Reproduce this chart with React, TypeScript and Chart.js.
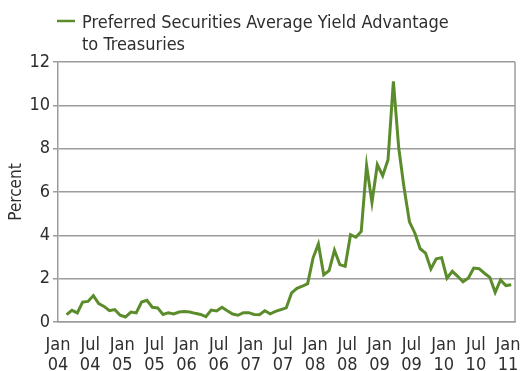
import React, { useEffect, useRef } from "react";
import { Chart, registerables } from "chart.js";

Chart.register(...registerables);

// Monthly yield advantage (percent), Feb 2004 – Jan 2011
const yieldAdvantage = [
  0.34, 0.54, 0.42, 0.92, 0.95, 1.22, 0.85, 0.72, 0.52, 0.57, 0.31,
  0.23, 0.46, 0.42, 0.92, 1.0, 0.68, 0.65, 0.35, 0.43, 0.37, 0.46,
  0.48, 0.46, 0.4, 0.35, 0.25, 0.55, 0.51, 0.68, 0.52, 0.37, 0.31,
  0.43, 0.43, 0.35, 0.34, 0.52, 0.38, 0.49, 0.57, 0.65, 1.34, 1.55,
  1.65, 1.77, 2.95, 3.6, 2.18, 2.37, 3.31, 2.65, 2.57, 4.03, 3.91,
  4.18, 7.22, 5.52, 7.26, 6.75, 7.49, 11.11, 8.03, 6.18, 4.62, 4.11,
  3.38, 3.18, 2.45, 2.92, 2.97, 2.02, 2.34, 2.11, 1.86, 2.03, 2.49,
  2.46, 2.25, 2.06, 1.37, 1.94, 1.68, 1.72,
];

const seriesLabel = ["Preferred Securities Average Yield Advantage", "to Treasuries"];

// x tick labels every six months (month index from Jan 2004)
const xTickMonths = [0, 6, 12, 18, 24, 30, 36, 42, 48, 54, 60, 66, 72, 78, 84];
const xTickLabels = [
  ["Jan", "04"], ["Jul", "04"], ["Jan", "05"], ["Jul", "05"], ["Jan", "06"],
  ["Jul", "06"], ["Jan", "07"], ["Jul", "07"], ["Jan", "08"], ["Jul", "08"],
  ["Jan", "09"], ["Jul", "09"], ["Jan", "10"], ["Jul", "10"], ["Jan", "11"],
];
const yTicks = [0, 2, 4, 6, 8, 10, 12];

const FONT = "'Liberation Sans Narrow', 'DejaVu Sans Condensed', 'Liberation Sans', sans-serif";
const TEXT = "#2e2e2e";
const GRID = "#9c9c9c";
const GREEN = "#5b8c2b";
const POINT_OFFSET = 1.6;

const framePlugin = {
  id: "frameAndLegend",
  afterDraw(chart: any) {
    const { ctx, chartArea } = chart;
    ctx.save();
    ctx.strokeStyle = GRID;
    ctx.lineWidth = 1.5;
    ctx.beginPath();
    ctx.moveTo(chartArea.right, chartArea.top);
    ctx.lineTo(chartArea.right, chartArea.bottom);
    ctx.stroke();
    // legend
    ctx.strokeStyle = GREEN;
    ctx.lineWidth = 2.5;
    ctx.beginPath();
    ctx.moveTo(57, 21);
    ctx.lineTo(75, 21);
    ctx.stroke();
    ctx.fillStyle = TEXT;
    ctx.font = `18px ${FONT}`;
    ctx.textBaseline = "alphabetic";
    ctx.textAlign = "left";
    const lines = chart.data.datasets[0].label.split("\n");
    lines.forEach((l: string, i: number) => ctx.fillText(l, 82, 28 + i * 21.5));
    ctx.restore();
  },
};

export default function App() {
  const ref = useRef<HTMLCanvasElement | null>(null);
  useEffect(() => {
    document.body.style.margin = "0";
    const canvas = ref.current!;
    const chart = new Chart(canvas, {
      type: "line",
      data: {
        datasets: [
          {
            label: seriesLabel.join("\n"),
            data: yieldAdvantage.map((v, i) => ({ x: i + POINT_OFFSET, y: v })),
            borderColor: GREEN,
            borderWidth: 3,
            pointRadius: 0,
            tension: 0,
            fill: false,
          },
        ],
      },
      options: {
        animation: false,
        responsive: false,
        devicePixelRatio: 1,
        layout: { padding: { top: 62, right: 10, left: 0, bottom: 0 } },
        plugins: { legend: { display: false }, tooltip: { enabled: false } },
        scales: {
          x: {
            type: "linear",
            min: 0,
            max: 85.3,
            afterBuildTicks: (scale: any) => {
              scale.ticks = xTickMonths.map((v) => ({ value: v }));
            },
            afterFit: (scale: any) => {
              scale.height = 49;
              scale.paddingLeft = 0;
              scale.paddingRight = 0;
            },
            grid: { display: false, drawTicks: false },
            border: { display: true, color: GRID, width: 1.5 },
            ticks: {
              autoSkip: false,
              maxRotation: 0,
              padding: 13,
              color: TEXT,
              font: { family: FONT, size: 18, lineHeight: 1.12 },
              callback: (_v: any, i: number) => xTickLabels[i],
            },
          },
          y: {
            min: 0,
            max: 12,
            afterBuildTicks: (scale: any) => {
              scale.ticks = yTicks.map((v) => ({ value: v }));
            },
            afterFit: (scale: any) => {
              scale.width = 58;
              scale.paddingTop = 0;
              scale.paddingBottom = 0;
            },
            grid: { color: GRID, lineWidth: 1.5, tickLength: 5, drawTicks: true },
            border: { display: true, color: GRID, width: 1.5 },
            ticks: {
              padding: 3,
              color: TEXT,
              font: { family: FONT, size: 18, lineHeight: 1.05 },
            },
            title: {
              display: true,
              text: "Percent",
              color: TEXT,
              padding: { top: 8, bottom: 0 },
              font: { family: FONT, size: 17, lineHeight: 1.05 },
            },
          },
        },
      },
      plugins: [framePlugin],
    });
    return () => chart.destroy();
  }, []);
  return (
    <div style={{ width: 525, height: 371 }}>
      <canvas ref={ref} width={525} height={371} style={{ display: "block" }} />
    </div>
  );
}
